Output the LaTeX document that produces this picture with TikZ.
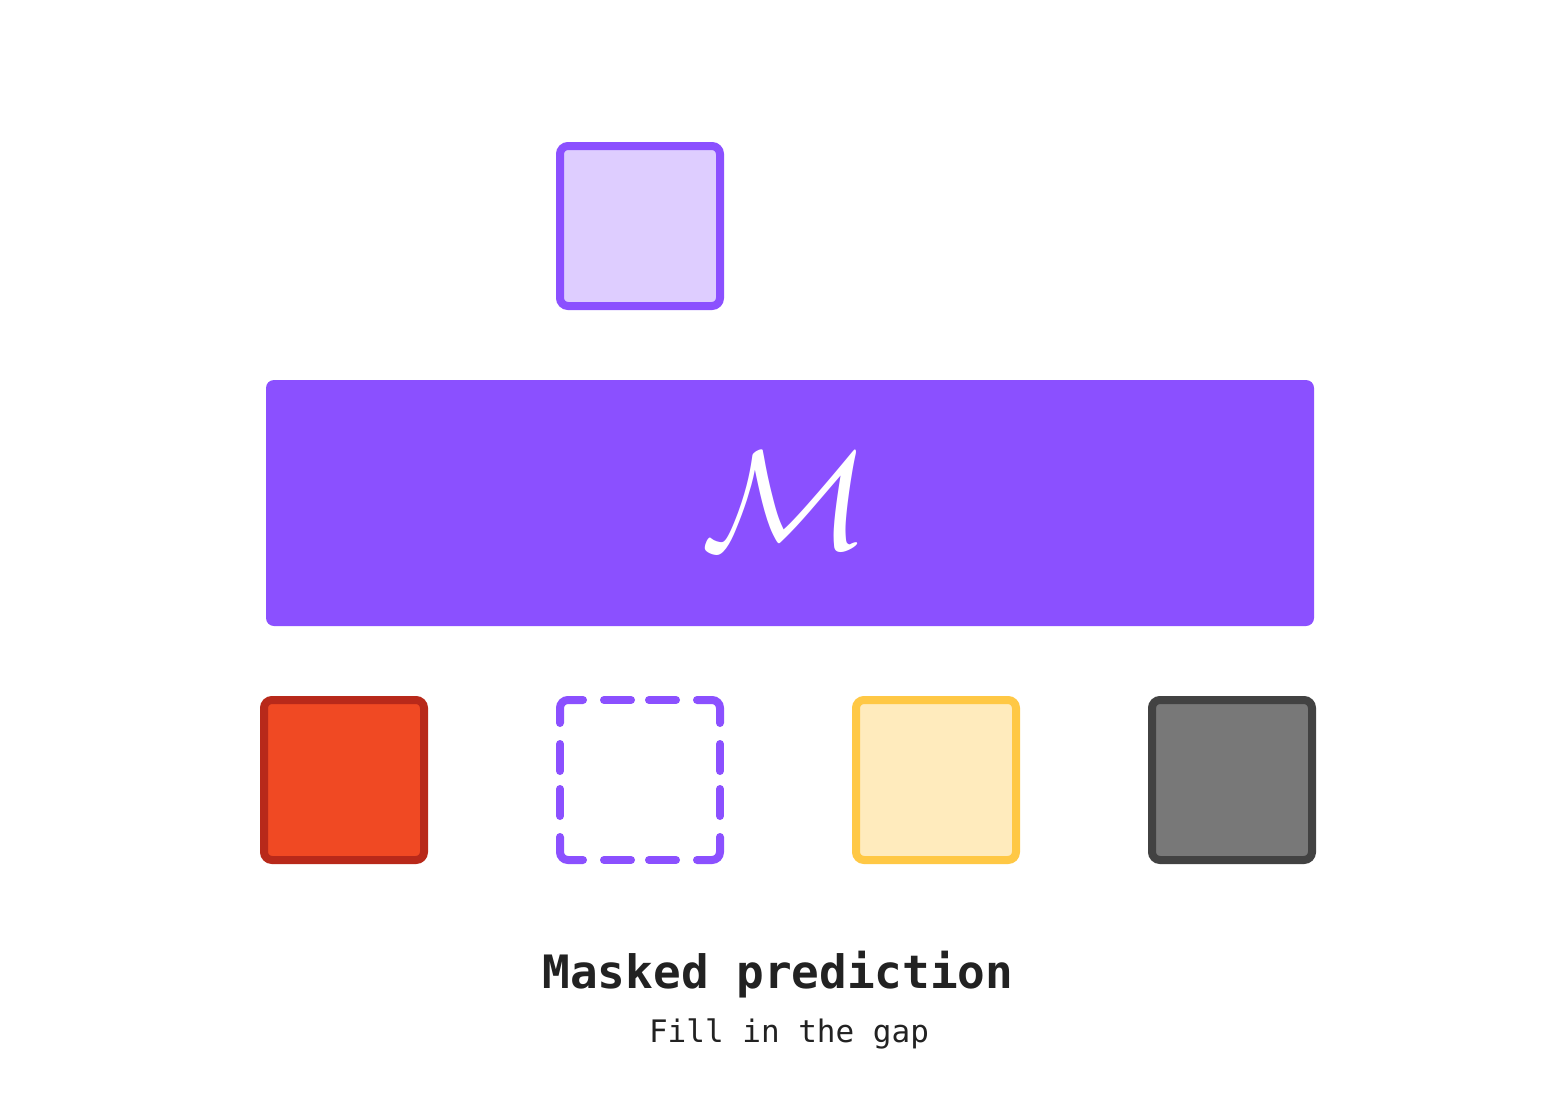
\documentclass[tikz,border=0pt]{standalone}
\usepackage{fontspec}
\newfontfamily\monofont{DejaVu Sans Mono}
\definecolor{purp}{HTML}{8B50FF}
\definecolor{lpurp}{HTML}{DECDFF}
\definecolor{redfill}{HTML}{F04923}
\definecolor{redline}{HTML}{B8291A}
\definecolor{yelfill}{HTML}{FFEBBD}
\definecolor{yelline}{HTML}{FFC845}
\definecolor{grayfill}{HTML}{787878}
\definecolor{grayline}{HTML}{424242}
\definecolor{textcol}{HTML}{222222}
\tikzset{
  tokenbox/.style={rectangle, minimum size=160pt, inner sep=0pt, outer sep=0pt, line width=8pt, rounded corners=8pt},
  dashpiece/.style={draw=purp, line width=8pt, line cap=round, rounded corners=8pt},
}
\begin{document}
\begin{tikzpicture}[x=1pt,y=-1pt]
\useasboundingbox[fill=white] (0,0) rectangle (1562,1108);
% model block
\node[rectangle, fill=purp, rounded corners=8pt, minimum width=1048pt, minimum height=246pt, inner sep=0pt] (model) at (790,503) {};
\node[text=white, inner sep=0pt, scale=14] (mlabel) at (786,501) {$\mathcal{M}$};
% predicted token
\node[tokenbox, draw=purp, fill=lpurp] (pred) at (640,226) {};
% input tokens
\node[tokenbox, draw=redline, fill=redfill] (t1) at (344,780) {};
\node[tokenbox] (mask) at (640,780) {};
\node[tokenbox, draw=yelline, fill=yelfill] (t3) at (936,780) {};
\node[tokenbox, draw=grayline, fill=grayfill] (t4) at (1232,780) {};
% dashed outline of masked token
\begin{scope}[shift={(mask.north west)}]
  \draw[dashpiece] (0,23) -- (0,0) -- (23,0);
  \draw[dashpiece] (137,0) -- (160,0) -- (160,23);
  \draw[dashpiece] (160,137) -- (160,160) -- (137,160);
  \draw[dashpiece] (23,160) -- (0,160) -- (0,137);
  \foreach \a/\b in {44/71, 89/116}{
    \draw[dashpiece] (\a,0) -- (\b,0);
    \draw[dashpiece] (\a,160) -- (\b,160);
    \draw[dashpiece] (0,\a) -- (0,\b);
    \draw[dashpiece] (160,\a) -- (160,\b);
  }
\end{scope}
% captions
\node[anchor=base, inner sep=0pt, text=textcol, font=\monofont\bfseries\fontsize{46}{46}\selectfont] (title) at (778,988) {Masked prediction};
\node[anchor=base, inner sep=0pt, text=textcol, font=\monofont\fontsize{31}{31}\selectfont] (subtitle) at (789,1042) {Fill in the gap};
\end{tikzpicture}
\end{document}
